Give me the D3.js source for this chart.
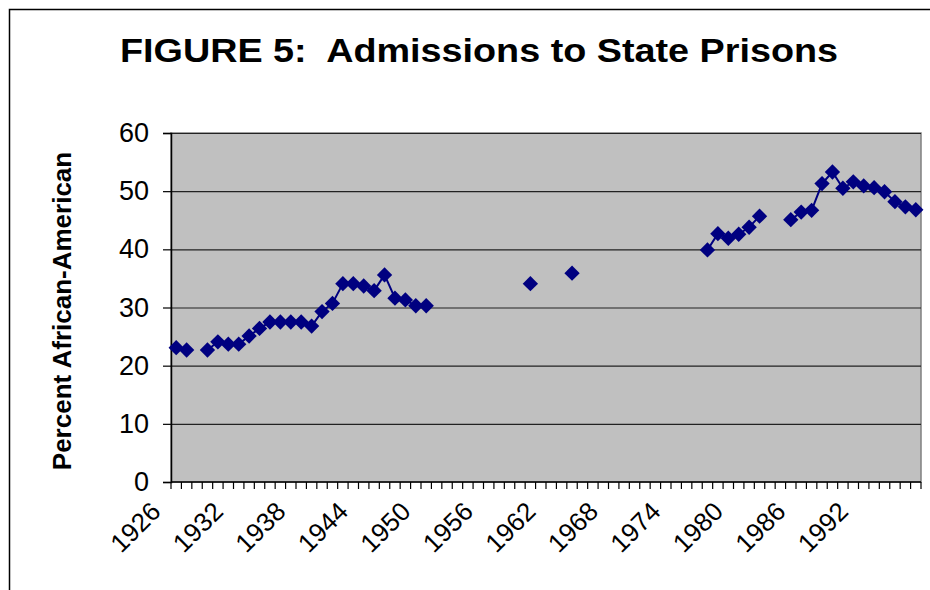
<!DOCTYPE html>
<html>
<head>
<meta charset="utf-8">
<script src="https://cdn.jsdelivr.net/npm/d3@7"></script>
<style>
  html, body { margin: 0; padding: 0; background: #fff; }
  svg { display: block; }
  text { font-family: "Liberation Sans", Arial, sans-serif; }
</style>
</head>
<body>
<svg id="chart" width="930" height="590"></svg>
<script>
// categories: one per year, 1926-1997
const years = d3.range(1926, 1998);
// percent African-American among admissions, null = no data for that year
const pct = [
  23.1, 22.7, null, 22.7, 24.1, 23.7, 23.7, 25.1, 26.4, 27.5,   // 1926-1935
  27.5, 27.5, 27.5, 26.8, 29.3, 30.7, 34.1, 34.1, 33.7, 32.9,   // 1936-1945
  35.6, 31.6, 31.3, 30.3, 30.3, null, null, null, null, null,   // 1946-1955
  null, null, null, null, 34.1, null, null, null, 35.9, null,   // 1956-1965
  null, null, null, null, null, null, null, null, null, null,   // 1966-1975
  null, 39.9, 42.7, 41.9, 42.6, 43.8, 45.7, null, null, 45.1,   // 1976-1985
  46.4, 46.7, 51.3, 53.3, 50.5, 51.6, 50.9, 50.6, 49.9, 48.2,   // 1986-1995
  47.3, 46.8                                                    // 1996-1997
];
const yTicks = [0, 10, 20, 30, 40, 50, 60];
const xLabels = d3.range(1926, 1998, 6);

const title = "FIGURE 5:  Admissions to State Prisons";
const yTitle = "Percent African-American";

const data = years.map((yr, i) => ({ year: yr, value: pct[i] }));

const PLOT = { left: 171, right: 921, top: 133, bottom: 482 };
const svg = d3.select("#chart");

// outer chart frame
svg.append("rect")
  .attr("x", 9.5).attr("y", 9.5)
  .attr("width", 1000).attr("height", 1000)
  .attr("fill", "#fff")
  .attr("stroke", "#000")
  .attr("stroke-width", 1.5);

const x = d3.scaleBand().domain(years).range([PLOT.left, PLOT.right]).padding(0);
const y = d3.scaleLinear().domain([0, 60]).range([PLOT.bottom, PLOT.top]);
const cx = d => x(d) + x.bandwidth() / 2;

// plot area
svg.append("rect")
  .attr("x", PLOT.left).attr("y", PLOT.top)
  .attr("width", PLOT.right - PLOT.left).attr("height", PLOT.bottom - PLOT.top)
  .attr("fill", "#c0c0c0")
  .attr("stroke", "#808080")
  .attr("stroke-width", 1.5);

// gridlines
svg.append("g")
  .attr("transform", `translate(${PLOT.left},0)`)
  .call(d3.axisLeft(y).tickValues(yTicks.slice(1)).tickSize(-(PLOT.right - PLOT.left)).tickFormat(""))
  .call(g => g.select(".domain").remove())
  .call(g => g.selectAll("line").attr("stroke", "#222").attr("stroke-width", 1.2));

// y axis
svg.append("g")
  .attr("transform", `translate(${PLOT.left},0)`)
  .call(d3.axisLeft(y).tickValues(yTicks).tickSize(8).tickPadding(14))
  .call(g => g.select(".domain").attr("stroke", "#000").attr("stroke-width", 1.5))
  .call(g => g.selectAll("line").attr("stroke", "#000").attr("stroke-width", 1.2))
  .call(g => g.selectAll("text")
    .attr("font-size", 27)
    .attr("fill", "#000")
    .attr("font-family", "Liberation Sans, Arial, sans-serif"));

// x axis line with a tick at every category boundary
svg.append("line")
  .attr("x1", PLOT.left).attr("x2", PLOT.right)
  .attr("y1", PLOT.bottom).attr("y2", PLOT.bottom)
  .attr("stroke", "#000").attr("stroke-width", 1.5);

const bounds = years.map(yr => x(yr)).concat([x(years[years.length - 1]) + x.bandwidth()]);
svg.append("g").selectAll("line")
  .data(bounds)
  .join("line")
  .attr("x1", d => d).attr("x2", d => d)
  .attr("y1", PLOT.bottom).attr("y2", PLOT.bottom + 7)
  .attr("stroke", "#000").attr("stroke-width", 1.2);

// x labels, rotated
svg.append("g").selectAll("text")
  .data(xLabels)
  .join("text")
  .attr("transform", d => `translate(${cx(d) - 14},${PLOT.bottom + 31}) rotate(-45)`)
  .attr("text-anchor", "end")
  .attr("font-size", 26)
  .attr("fill", "#000")
  .text(d => d);

// series line, broken where data is missing
const line = d3.line()
  .defined(d => d.value != null)
  .x(d => cx(d.year))
  .y(d => y(d.value));

svg.append("path")
  .datum(data)
  .attr("fill", "none")
  .attr("stroke", "#000080")
  .attr("stroke-width", 2)
  .attr("d", line);

// diamond markers
const diamond = d3.symbol().type(d3.symbolDiamond2).size(150);
svg.append("g").selectAll("path")
  .data(data.filter(d => d.value != null))
  .join("path")
  .attr("transform", d => `translate(${cx(d.year)},${y(d.value)})`)
  .attr("d", diamond)
  .attr("fill", "#000080");

// titles
svg.append("text")
  .attr("x", 479).attr("y", 62)
  .attr("text-anchor", "middle")
  .attr("font-size", 34)
  .attr("font-weight", "bold")
  .attr("textLength", 718)
  .attr("lengthAdjust", "spacingAndGlyphs")
  .style("white-space", "pre")
  .text(title);

svg.append("text")
  .attr("transform", "translate(71,311) rotate(-90)")
  .attr("text-anchor", "middle")
  .attr("font-size", 26)
  .attr("font-weight", "bold")
  .text(yTitle);
</script>
</body>
</html>
